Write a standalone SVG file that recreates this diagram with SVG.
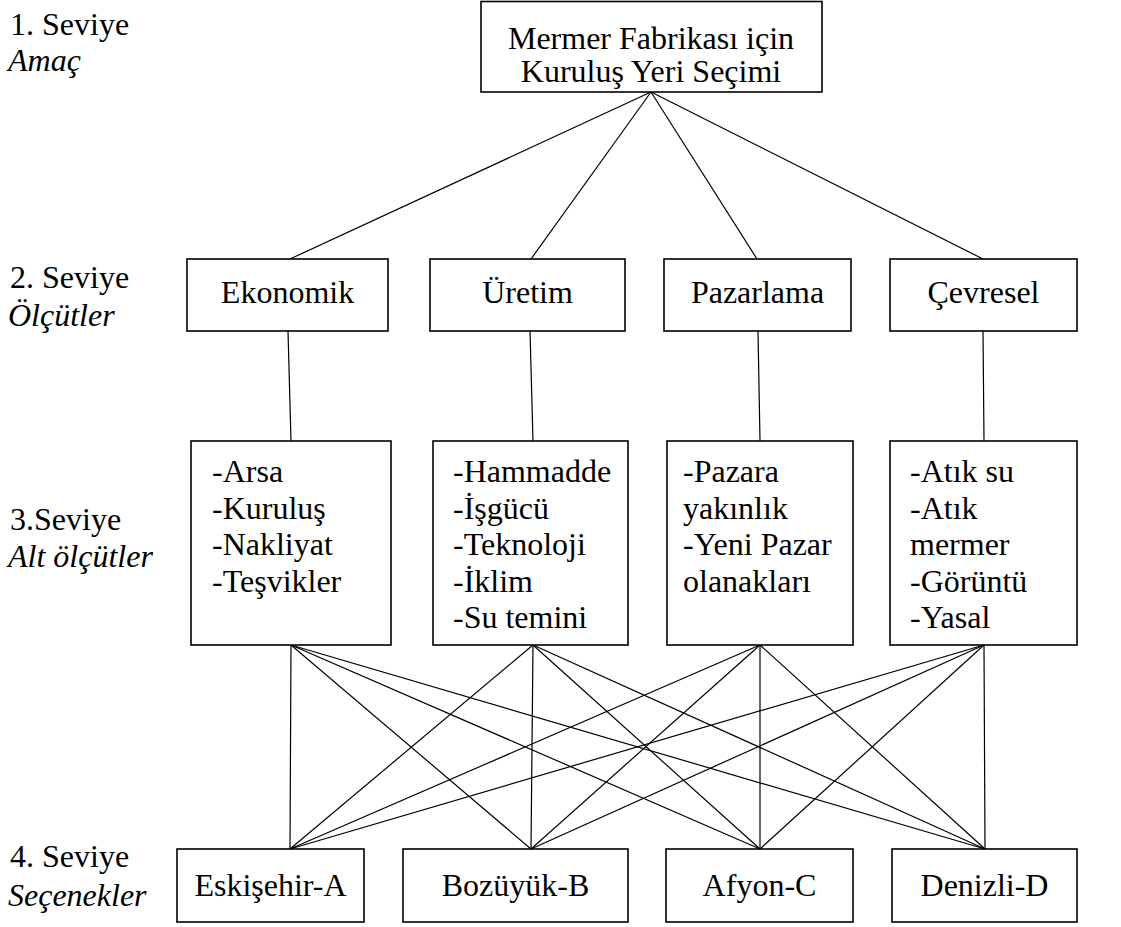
<svg xmlns="http://www.w3.org/2000/svg" width="1121" height="927" viewBox="0 0 1121 927" font-family="'Liberation Serif', 'Times New Roman', Tinos, 'DejaVu Serif', serif" font-size="32">
<style>
text{font-family:"Liberation Serif","Times New Roman",Tinos,"DejaVu Serif",serif;font-size:32px;fill:#000}
.it{font-style:italic}
.c{text-anchor:middle}
.box{fill:#fff;stroke:#000;stroke-width:1.6}
#connectors line{stroke:#000;stroke-width:1.2}
</style>
<rect x="0" y="0" width="1121" height="927" fill="#fff"/>
<g id="connectors">
<line x1="651" y1="92" x2="290" y2="259"/>
<line x1="651" y1="92" x2="531" y2="259"/>
<line x1="651" y1="92" x2="757" y2="259"/>
<line x1="651" y1="92" x2="983" y2="259"/>
<line x1="288" y1="331" x2="291" y2="441"/>
<line x1="530" y1="331" x2="533" y2="441"/>
<line x1="758" y1="331" x2="760" y2="441"/>
<line x1="983" y1="331" x2="984" y2="441"/>
<line x1="291" y1="645" x2="290" y2="849"/>
<line x1="291" y1="645" x2="531" y2="849"/>
<line x1="291" y1="645" x2="760" y2="849"/>
<line x1="291" y1="645" x2="985" y2="849"/>
<line x1="533" y1="645" x2="290" y2="849"/>
<line x1="533" y1="645" x2="531" y2="849"/>
<line x1="533" y1="645" x2="760" y2="849"/>
<line x1="533" y1="645" x2="985" y2="849"/>
<line x1="760" y1="645" x2="290" y2="849"/>
<line x1="760" y1="645" x2="531" y2="849"/>
<line x1="760" y1="645" x2="760" y2="849"/>
<line x1="760" y1="645" x2="985" y2="849"/>
<line x1="984" y1="645" x2="290" y2="849"/>
<line x1="984" y1="645" x2="531" y2="849"/>
<line x1="984" y1="645" x2="760" y2="849"/>
<line x1="984" y1="645" x2="985" y2="849"/>
</g>
<g id="levels">
<text x="10" y="35">1. Seviye</text>
<text x="8" y="71" class="it">Amaç</text>
<text x="10" y="288">2. Seviye</text>
<text x="8" y="326" class="it">Ölçütler</text>
<text x="10" y="530">3.Seviye</text>
<text x="8" y="567" class="it">Alt ölçütler</text>
<text x="10" y="867">4. Seviye</text>
<text x="8" y="906" class="it">Seçenekler</text>
</g>
<g id="goal">
<rect class="box" x="481" y="1.5" width="341" height="90.5"/>
<text x="651" y="49" class="c">Mermer Fabrikası için</text>
<text x="651" y="82" class="c">Kuruluş Yeri Seçimi</text>
</g>
<g id="ekonomik"><rect class="box" x="187" y="259" width="201" height="72"/><text x="287.5" y="303" class="c">Ekonomik</text></g>
<g id="uretim"><rect class="box" x="430" y="259" width="195" height="72"/><text x="527.5" y="303" class="c">Üretim</text></g>
<g id="pazarlama"><rect class="box" x="664" y="259" width="187" height="72"/><text x="757.5" y="303" class="c">Pazarlama</text></g>
<g id="cevresel"><rect class="box" x="890" y="259" width="187" height="72"/><text x="983.5" y="303" class="c">Çevresel</text></g>
<g id="alt-ekonomik"><rect class="box" x="191" y="441" width="200" height="204"/>
<text x="212" y="482">-Arsa</text><text x="212" y="518.6">-Kuruluş</text><text x="212" y="555.2">-Nakliyat</text><text x="212" y="591.8">-Teşvikler</text></g>
<g id="alt-uretim"><rect class="box" x="433" y="441" width="195" height="204"/>
<text x="453" y="482">-Hammadde</text><text x="453" y="518.6">-İşgücü</text><text x="453" y="555.2">-Teknoloji</text><text x="453" y="591.8">-İklim</text><text x="453" y="628.4">-Su temini</text></g>
<g id="alt-pazarlama"><rect class="box" x="667" y="441" width="186" height="204"/>
<text x="683" y="482">-Pazara</text><text x="683" y="518.6">yakınlık</text><text x="683" y="555.2">-Yeni Pazar</text><text x="683" y="591.8">olanakları</text></g>
<g id="alt-cevresel"><rect class="box" x="890" y="441" width="187" height="204"/>
<text x="910" y="482">-Atık su</text><text x="910" y="518.6">-Atık</text><text x="910" y="555.2">mermer</text><text x="910" y="591.8">-Görüntü</text><text x="910" y="628.4">-Yasal</text></g>
<g id="eskisehir"><rect class="box" x="177" y="849" width="187" height="73"/><text x="270.5" y="896" class="c">Eskişehir-A</text></g>
<g id="bozuyuk"><rect class="box" x="403" y="849" width="225" height="73"/><text x="515.5" y="896" class="c">Bozüyük-B</text></g>
<g id="afyon"><rect class="box" x="666" y="849" width="187" height="73"/><text x="759.5" y="896" class="c">Afyon-C</text></g>
<g id="denizli"><rect class="box" x="892" y="849" width="185" height="73"/><text x="984.5" y="896" class="c">Denizli-D</text></g>
</svg>
